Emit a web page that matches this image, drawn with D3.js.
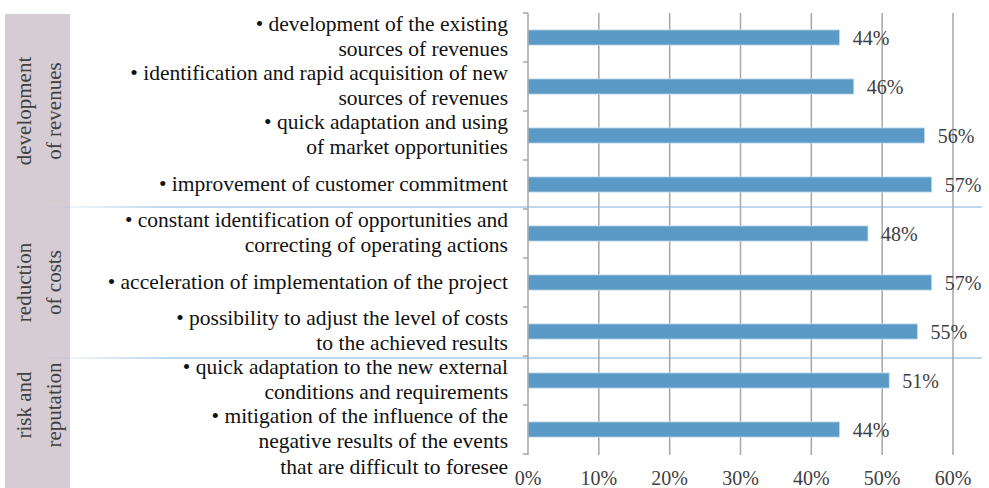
<!DOCTYPE html>
<html>
<head>
<meta charset="utf-8">
<script src="https://cdn.jsdelivr.net/npm/d3@7"></script>
<style>
  body { margin: 0; background: #fff; }
  svg { display: block; font-family: "Liberation Serif", "DejaVu Serif", serif; }
</style>
</head>
<body>
<div id="chart"></div>
<script>
// categories, top to bottom (lines split by "\n")
var categories = [
  "• development of the existing\nsources of revenues",
  "• identification and rapid acquisition of new\nsources of revenues",
  "• quick adaptation and using\nof market opportunities",
  "• improvement of customer commitment",
  "• constant identification of opportunities and\ncorrecting of operating actions",
  "• acceleration of implementation of the project",
  "• possibility to adjust the level of costs\nto the achieved results",
  "• quick adaptation to the new external\nconditions and requirements",
  "• mitigation of the influence of the\nnegative results of the events\nthat are difficult to foresee"
];
var values = [0.44, 0.46, 0.56, 0.57, 0.48, 0.57, 0.55, 0.51, 0.44];
var groupNames = ["development\nof revenues", "reduction\nof costs", "risk and\nreputation"];
var groupSizes = [4, 3, 2];
var xTicks = [0, 0.1, 0.2, 0.3, 0.4, 0.5, 0.6];

var width = 989, height = 488;
var plotTop = 13, plotBottom = 454, plotLeft = 528, plotRight = 953;

var svg = d3.select("#chart").append("svg")
    .attr("width", width)
    .attr("height", height);

var x = d3.scaleLinear().domain([0, 0.6]).range([plotLeft, plotRight]);
var y = d3.scaleBand().domain(categories).range([plotTop, plotBottom])
    .paddingInner(0.69).paddingOuter(0.345);
var step = y.step();
var gap = (step - y.bandwidth()) / 2;

// gradient for the group separators
var grad = svg.append("defs").append("linearGradient")
    .attr("id", "sep").attr("gradientUnits", "userSpaceOnUse")
    .attr("x1", 40).attr("x2", 170).attr("y1", 0).attr("y2", 0);
grad.append("stop").attr("offset", 0).attr("stop-color", "#7aaedb").attr("stop-opacity", 0);
grad.append("stop").attr("offset", 1).attr("stop-color", "#7aaedb").attr("stop-opacity", 1);

// left panel
svg.append("rect")
    .attr("x", 5).attr("y", 14)
    .attr("width", 65).attr("height", height - 14)
    .attr("fill", "#d6ccd4");

// grid lines
svg.append("g").selectAll("line")
    .data(xTicks.slice(1))
    .enter().append("line")
    .attr("x1", function(d) { return x(d); })
    .attr("x2", function(d) { return x(d); })
    .attr("y1", plotTop).attr("y2", plotBottom + 1)
    .attr("stroke", "#a6a6a6")
    .attr("stroke-width", 1.5);

// separators between groups
var starts = [];
var acc = 0;
groupSizes.forEach(function(n) { starts.push(acc); acc += n; });
svg.append("g").selectAll("line")
    .data(starts.slice(1))
    .enter().append("line")
    .attr("x1", 40).attr("x2", 982)
    .attr("y1", function(i, k) { return y(categories[i]) - gap + (k ? 2 : -2); })
    .attr("y2", function(i, k) { return y(categories[i]) - gap + (k ? 2 : -2); })
    .attr("stroke", "url(#sep)")
    .attr("stroke-width", 1.2);

// bars
svg.append("g").selectAll("rect")
    .data(values)
    .enter().append("rect")
    .attr("x", x(0))
    .attr("y", function(d, i) { return y(categories[i]); })
    .attr("width", function(d) { return x(d) - x(0); })
    .attr("height", y.bandwidth())
    .attr("fill", "#5b9ac7")
    .attr("stroke", "#cfe0ef")
    .attr("stroke-width", 0.8);

// value labels
svg.append("g").selectAll("text")
    .data(values)
    .enter().append("text")
    .attr("x", function(d) { return x(d) + 13; })
    .attr("y", function(d, i) { return y(categories[i]) + y.bandwidth() / 2 + 7; })
    .attr("fill", "#404040")
    .style("font-size", "20px")
    .text(function(d) { return Math.round(d * 100) + "%"; });

// category axis line and ticks
svg.append("line")
    .attr("x1", plotLeft).attr("x2", plotLeft)
    .attr("y1", plotTop).attr("y2", plotBottom + 1)
    .attr("stroke", "#a6a6a6").attr("stroke-width", 1.5);
var bounds = categories.map(function(c) { return y(c) - gap; }).concat([plotBottom]);
svg.append("g").selectAll("line")
    .data(bounds)
    .enter().append("line")
    .attr("x1", plotLeft - 5).attr("x2", plotLeft)
    .attr("y1", function(d) { return d; })
    .attr("y2", function(d) { return d; })
    .attr("stroke", "#a6a6a6").attr("stroke-width", 1.5);

// category labels
var lh = 25.5;
var cat = svg.append("g").selectAll("text")
    .data(categories)
    .enter().append("text")
    .attr("text-anchor", "end")
    .attr("fill", "#111")
    .style("font-size", "21.5px");
cat.each(function(c) {
    var lines = c.split("\n");
    var cy = y(c) + y.bandwidth() / 2;
    var y0 = cy - (Math.min(lines.length, 2) - 1) * lh / 2 + 6;
    d3.select(this).selectAll("tspan")
        .data(lines)
        .enter().append("tspan")
        .attr("x", 508)
        .attr("y", function(d, i) { return y0 + i * lh; })
        .text(function(d) { return d; });
});

// x tick labels
svg.append("g").selectAll("text")
    .data(xTicks)
    .enter().append("text")
    .attr("x", function(d) { return x(d); })
    .attr("y", 485)
    .attr("text-anchor", "middle")
    .attr("fill", "#404040")
    .style("font-size", "20px")
    .text(d3.format(".0%"));

// group labels (rotated)
var g = svg.append("g").selectAll("text")
    .data(groupNames)
    .enter().append("text")
    .attr("transform", function(d, i) {
        var a = categories[starts[i]];
        var b = categories[starts[i] + groupSizes[i] - 1];
        var cy = (y(a) + y(b) + y.bandwidth()) / 2;
        return "translate(0," + cy + ") rotate(-90)";
    })
    .attr("text-anchor", "middle")
    .attr("fill", "#404040")
    .style("font-size", "21px");
g.each(function(d) {
    d3.select(this).selectAll("tspan")
        .data(d.split("\n"))
        .enter().append("tspan")
        .attr("x", 0)
        .attr("y", function(t, i) { return 31 + i * 30; })
        .text(function(t) { return t; });
});
</script>
</body>
</html>
